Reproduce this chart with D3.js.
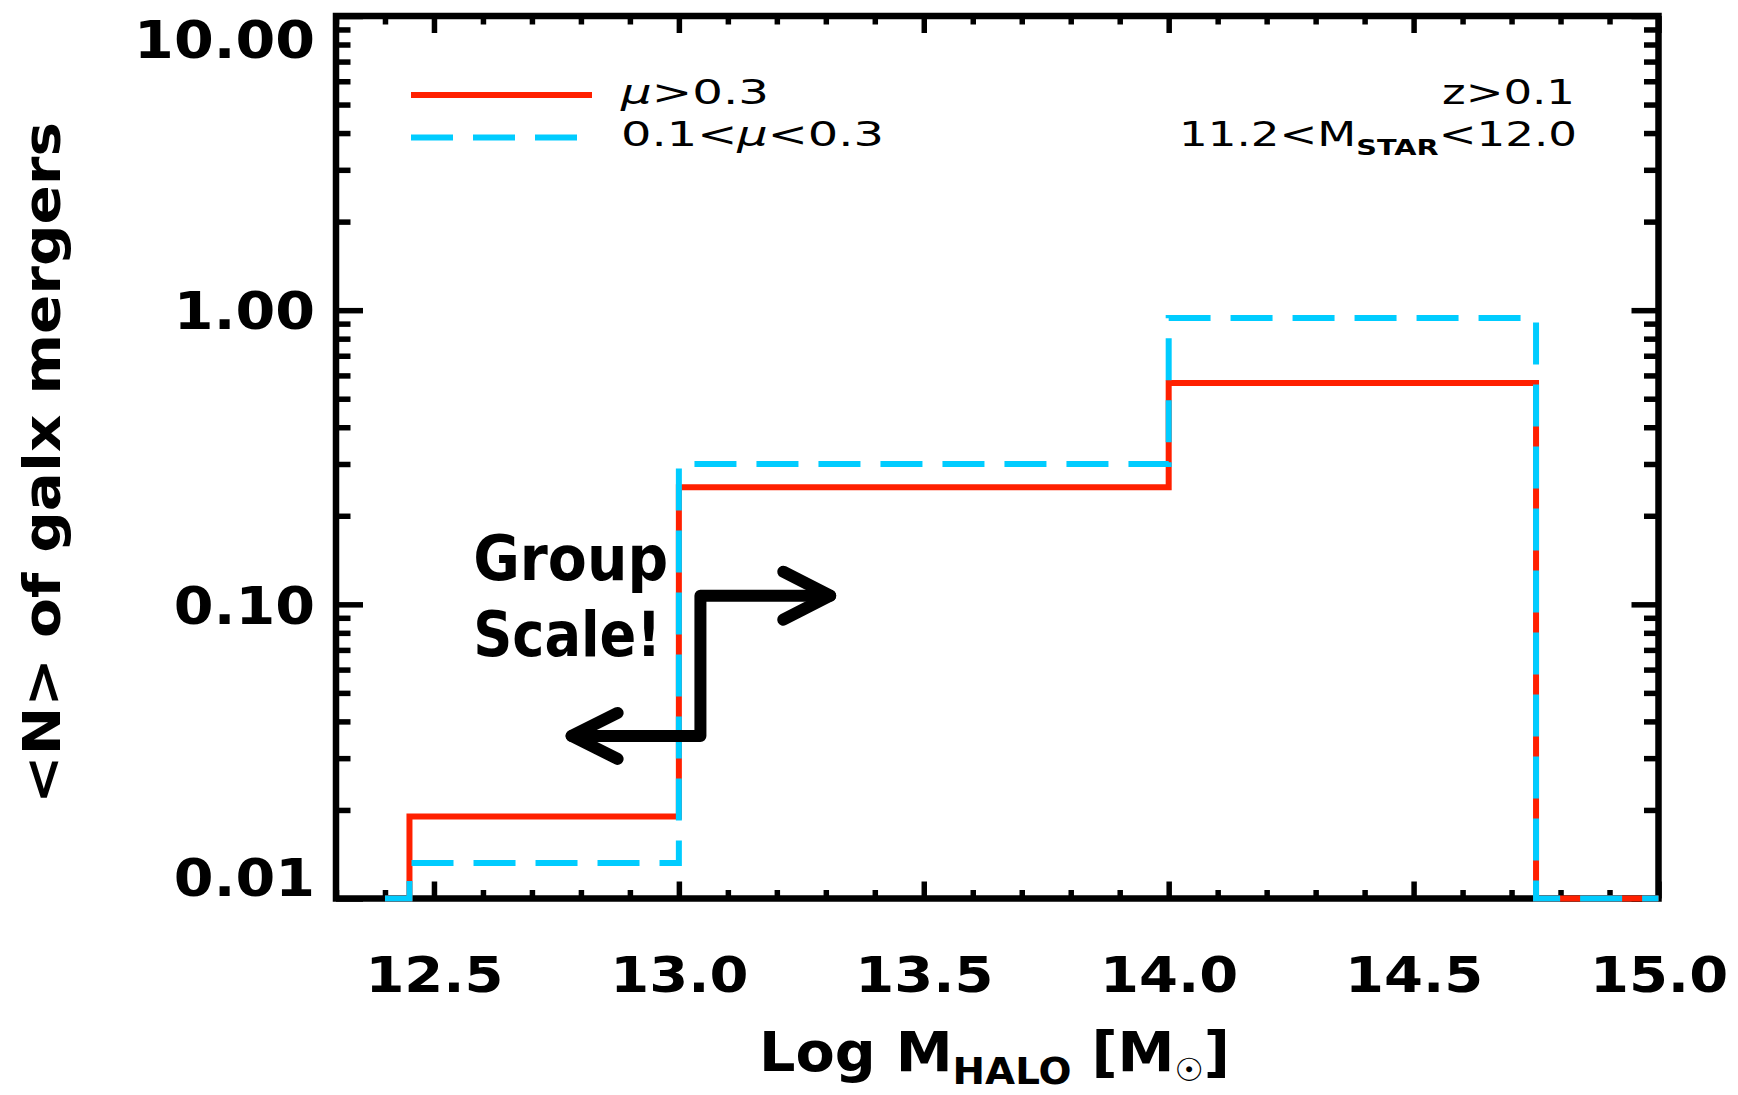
<!DOCTYPE html>
<html>
<head>
<meta charset="utf-8">
<script src="https://cdn.jsdelivr.net/npm/d3@7"></script>
<style>
  body { margin: 0; background: #fff; }
  svg { display: block; }
</style>
</head>
<body>
<svg id="chart" width="1738" height="1095"></svg>
<script>
// Halo-mass bins (log M_halo) and mean number of galaxy mergers per halo
const binEdges = [12.40, 12.45, 13.0, 14.0, 14.75, 15.0];
const majorMergers = [0, 0.019, 0.25, 0.565, 0];    // mu > 0.3
const minorMergers = [0, 0.0132, 0.30, 0.94, 0];    // 0.1 < mu < 0.3

const xTickValues = [12.5, 13.0, 13.5, 14.0, 14.5, 15.0];
const xTickLabels = ["12.5", "13.0", "13.5", "14.0", "14.5", "15.0"];
const yTickValues = [0.01, 0.1, 1, 10];
const yTickLabels = ["0.01", "0.10", "1.00", "10.00"];

// "Group Scale!" annotation arrow, in data coordinates
const groupArrowX = [12.781, 13.044, 13.044, 13.309];
const groupArrowY = [0.0357, 0.0357, 0.107, 0.107];

const RED = "#ff2000";
const CYAN = "#00ccff";

const svg = d3.select("#chart");
svg.append("rect").attr("width", 1738).attr("height", 1095).attr("fill", "#fff");

const plot = { left: 336, right: 1658.5, top: 16, bottom: 898.5 };
const x = d3.scaleLinear().domain([12.3, 15.0]).range([plot.left, plot.right]);
const y = d3.scaleLog().domain([0.01, 10]).range([plot.bottom, plot.top]);

// minor ticks
const xMinor = d3.range(123, 151).map(d => d / 10).filter(v => !xTickValues.some(t => Math.abs(t - v) < 1e-6));
const yMinor = [];
[0.01, 0.1, 1].forEach(dec => { for (let k = 2; k <= 9; k++) yMinor.push(dec * k); });

const axes = svg.append("g").attr("class", "axes");
function tickAxis(axis, tx, ty) {
  const g = axes.append("g").attr("transform", `translate(${tx},${ty})`).call(axis);
  g.select(".domain").remove();
  g.selectAll(".tick line").attr("stroke", "#000").attr("stroke-width", 5.5);
  return g;
}

// x ticks (bottom + mirrored top)
tickAxis(d3.axisBottom(x).tickValues(xMinor).tickSizeInner(-8.5).tickSizeOuter(0).tickFormat(""), 0, plot.bottom);
tickAxis(d3.axisTop(x).tickValues(xMinor).tickSizeInner(-8.5).tickSizeOuter(0).tickFormat(""), 0, plot.top);
tickAxis(d3.axisTop(x).tickValues(xTickValues).tickSizeInner(-17).tickSizeOuter(0).tickFormat(""), 0, plot.top);
const xMajor = tickAxis(
  d3.axisBottom(x).tickValues(xTickValues).tickSizeInner(-17).tickSizeOuter(0)
    .tickPadding(0).tickFormat((d, i) => xTickLabels[i]),
  0, plot.bottom);
xMajor.selectAll(".tick text")
  .attr("font-family", "DejaVu Sans, sans-serif")
  .attr("font-weight", "bold")
  .attr("font-size", 50)
  .attr("fill", "#000")
  .attr("dy", null)
  .attr("y", 93.5)
  .each(function () {
    const w = this.getComputedTextLength();
    d3.select(this).attr("textLength", w * 1.12).attr("lengthAdjust", "spacingAndGlyphs");
  });

// y ticks (left + mirrored right)
tickAxis(d3.axisLeft(y).tickValues(yMinor).tickSizeInner(-14.5).tickSizeOuter(0).tickFormat(""), plot.left, 0);
tickAxis(d3.axisRight(y).tickValues(yMinor).tickSizeInner(-14.5).tickSizeOuter(0).tickFormat(""), plot.right, 0);
tickAxis(d3.axisRight(y).tickValues(yTickValues).tickSizeInner(-27).tickSizeOuter(0).tickFormat(""), plot.right, 0);
const yMajor = tickAxis(
  d3.axisLeft(y).tickValues(yTickValues).tickSizeInner(-27).tickSizeOuter(0)
    .tickPadding(21).tickFormat((d, i) => yTickLabels[i]),
  plot.left, 0);
yMajor.selectAll(".tick text")
  .attr("font-family", "DejaVu Sans, sans-serif")
  .attr("font-weight", "bold")
  .attr("font-size", 52)
  .attr("fill", "#000")
  .attr("dy", d => d === 10 ? "0.8em" : d === 0.01 ? "-0.05em" : "0.36em")
  .each(function () {
    const w = this.getComputedTextLength();
    d3.select(this).attr("textLength", w * 1.1).attr("lengthAdjust", "spacingAndGlyphs");
  });

// frame
axes.append("rect")
  .attr("x", plot.left).attr("y", plot.top)
  .attr("width", plot.right - plot.left).attr("height", plot.bottom - plot.top)
  .attr("fill", "none").attr("stroke", "#000").attr("stroke-width", 6.5);

// histogram steps
const floorY = y.domain()[0];
function stepPoints(vals) {
  const pts = vals.map((v, i) => [binEdges[i], Math.max(v, floorY)]);
  pts.push([binEdges[binEdges.length - 1], Math.max(vals[vals.length - 1], floorY)]);
  return pts;
}
const stepLine = d3.line().x(d => x(d[0])).y(d => y(d[1])).curve(d3.curveStepAfter);

svg.append("path")
  .attr("d", stepLine(stepPoints(majorMergers)))
  .attr("fill", "none").attr("stroke", RED).attr("stroke-width", 6)
  .attr("stroke-linejoin", "miter").attr("stroke-linecap", "butt");
svg.append("path")
  .attr("d", stepLine(stepPoints(minorMergers)))
  .attr("fill", "none").attr("stroke", CYAN).attr("stroke-width", 6)
  .attr("stroke-dasharray", "42,20")
  .attr("stroke-linejoin", "miter").attr("stroke-linecap", "butt");

// legend
const legend = svg.append("g").attr("font-family", "DejaVu Sans, sans-serif").attr("font-size", 33).attr("fill", "#000");
legend.append("line").attr("x1", 411).attr("x2", 592).attr("y1", 95).attr("y2", 95)
  .attr("stroke", RED).attr("stroke-width", 6);
legend.append("line").attr("x1", 411).attr("x2", 577).attr("y1", 137.5).attr("y2", 137.5)
  .attr("stroke", CYAN).attr("stroke-width", 6).attr("stroke-dasharray", "42,20");

const t1 = legend.append("text").attr("x", 621).attr("y", 104)
  .attr("textLength", 148).attr("lengthAdjust", "spacingAndGlyphs");
t1.append("tspan").attr("font-style", "italic").text("\u03bc");
t1.append("tspan").text(">0.3");

const t2 = legend.append("text").attr("x", 621).attr("y", 146)
  .attr("textLength", 263).attr("lengthAdjust", "spacingAndGlyphs");
t2.append("tspan").text("0.1<");
t2.append("tspan").attr("font-style", "italic").text("\u03bc");
t2.append("tspan").text("<0.3");

// sample selection
legend.append("text").attr("x", 1442).attr("y", 104)
  .attr("textLength", 133).attr("lengthAdjust", "spacingAndGlyphs")
  .text("z>0.1");
const t3 = legend.append("text").attr("x", 1179).attr("y", 146)
  .attr("textLength", 398).attr("lengthAdjust", "spacingAndGlyphs");
t3.append("tspan").text("11.2<M");
t3.append("tspan").attr("font-size", 21).attr("font-weight", "bold").attr("dy", 9).text("STAR");
t3.append("tspan").attr("dy", -9).text("<12.0");

// "Group Scale!" annotation
const note = svg.append("text")
  .attr("font-family", "DejaVu Sans, sans-serif").attr("font-weight", "bold")
  .attr("font-size", 62).attr("fill", "#000");
note.append("tspan").attr("x", x(12.58)).attr("y", 580)
  .attr("textLength", 195).attr("lengthAdjust", "spacingAndGlyphs").text("Group");
note.append("tspan").attr("x", x(12.58)).attr("y", 656)
  .attr("textLength", 188).attr("lengthAdjust", "spacingAndGlyphs").text("Scale!");

const arrowPts = groupArrowX.map((v, i) => [x(v), y(groupArrowY[i])]);
const arrow = svg.append("g").attr("fill", "none").attr("stroke", "#000")
  .attr("stroke-width", 12).attr("stroke-linecap", "round").attr("stroke-linejoin", "round");
arrow.append("path").attr("d", d3.line()(arrowPts));
const tipL = arrowPts[0], tipR = arrowPts[arrowPts.length - 1];
arrow.append("path").attr("d", d3.line()([[tipL[0] + 46, tipL[1] - 23], tipL, [tipL[0] + 46, tipL[1] + 23]]));
arrow.append("path").attr("d", d3.line()([[tipR[0] - 47, tipR[1] - 24], tipR, [tipR[0] - 47, tipR[1] + 24]]));

// axis titles
const xt = svg.append("text")
  .attr("x", 759).attr("y", 1071)
  .attr("font-family", "DejaVu Sans, sans-serif").attr("font-weight", "bold")
  .attr("font-size", 56).attr("fill", "#000")
  .attr("textLength", 471).attr("lengthAdjust", "spacingAndGlyphs");
xt.append("tspan").text("Log M");
xt.append("tspan").attr("font-size", 38).attr("dy", 13).text("HALO");
xt.append("tspan").attr("dy", -13).text(" [M");
xt.append("tspan").attr("font-size", 32).attr("dy", 10).text("\u2609");
xt.append("tspan").attr("dy", -10).text("]");

svg.append("text")
  .attr("transform", "translate(60,463) rotate(-90)")
  .attr("text-anchor", "middle")
  .attr("font-family", "DejaVu Sans, sans-serif").attr("font-weight", "bold")
  .attr("font-size", 52).attr("fill", "#000")
  .attr("textLength", 682).attr("lengthAdjust", "spacingAndGlyphs")
  .text("<N> of galx mergers");
</script>
</body>
</html>
